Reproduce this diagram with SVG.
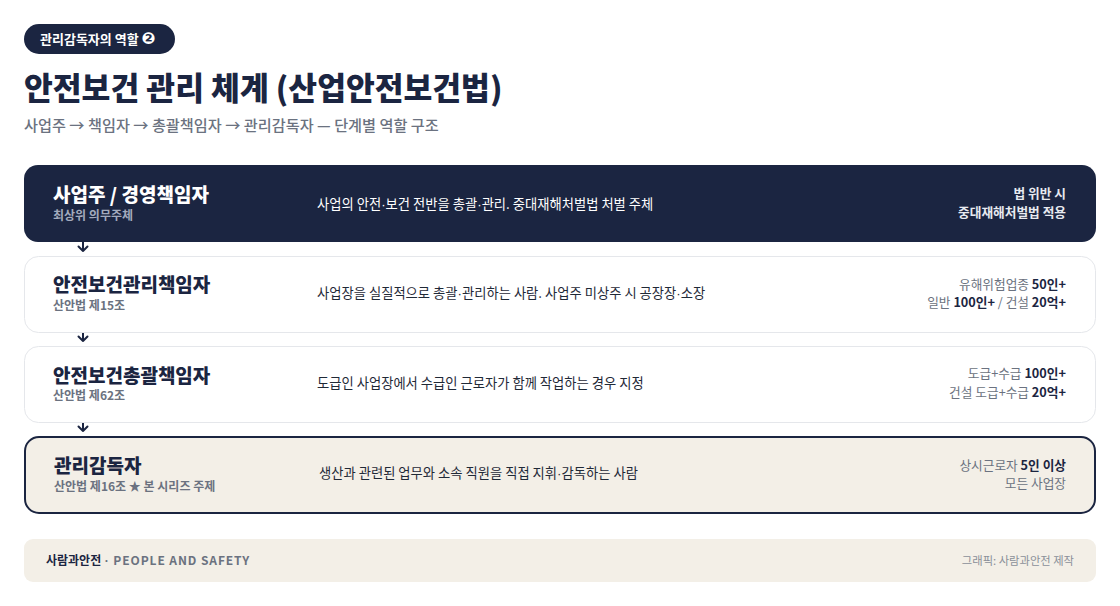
<svg xmlns="http://www.w3.org/2000/svg" width="1120" height="606" viewBox="0 0 1120 606">
<style>
text{font-family:"Noto Sans CJK KR","Noto Sans",sans-serif;}
.navy{fill:#1b2541;}
.ct{font-size:19px;font-weight:800;fill:#1b2541;}
.cs{font-size:12px;font-weight:700;fill:#6b7280;}
.cd{font-size:13.3px;fill:#1f2937;}
.cr{font-size:12.7px;fill:#6b7280;text-anchor:end;}
.b{font-weight:700;fill:#1b2541;}
.dot{font-family:"Liberation Sans",sans-serif;}
.card{fill:#ffffff;stroke:#e5e7eb;stroke-width:1;}
</style>
<rect width="1120" height="606" fill="#ffffff"/>
<g id="header">
<rect x="24" y="24" width="151" height="30" rx="15" class="navy"/>
<text x="40" y="44" font-size="13" font-weight="700" fill="#ffffff">관리감독자의 역할 <tspan font-family="DejaVu Sans, sans-serif" font-size="16.5">❷</tspan></text>
<text x="24" y="100" font-size="31.3" font-weight="900" fill="#1b2541">안전보건 관리 체계 (산업안전보건법)</text>
<text x="24" y="131" font-size="15.2" font-weight="500" fill="#6b7280">사업주 → 책임자 → 총괄책임자 → 관리감독자 — 단계별 역할 구조</text>
</g>
<g id="connectors" stroke="#1b2541" stroke-width="2" fill="none" stroke-linecap="round" stroke-linejoin="round">
<path d="M83 242 V251 M78.5 246.5 L83 251 L87.5 246.5"/>
<path d="M83 332 V341 M78.5 336.5 L83 341 L87.5 336.5"/>
<path d="M83 422 V431 M78.5 426.5 L83 431 L87.5 426.5"/>
</g>
<g id="card1">
<rect x="24" y="165" width="1072" height="77" rx="14" class="navy"/>
<text x="53" y="202" class="ct" style="fill:#ffffff">사업주 / 경영책임자</text>
<text x="53" y="220" class="cs" style="fill:#a3abbd">최상위 의무주체</text>
<text x="317" y="209" class="cd" style="fill:#ffffff">사업의 안전<tspan class="dot">·</tspan>보건 전반을 총괄<tspan class="dot">·</tspan>관리. 중대재해처벌법 처벌 주체</text>
<text x="1066" y="198" class="cr" style="fill:#e8eaf0;font-weight:700">법 위반 시</text>
<text x="1066" y="217" class="cr" style="fill:#e8eaf0;font-weight:700">중대재해처벌법 적용</text>
</g>
<g id="card2">
<rect x="24.5" y="256.5" width="1071" height="76" rx="14" class="card"/>
<text x="53" y="292" class="ct">안전보건관리책임자</text>
<text x="53" y="310" class="cs">산안법 제15조</text>
<text x="317" y="298" class="cd">사업장을 실질적으로 총괄<tspan class="dot">·</tspan>관리하는 사람. 사업주 미상주 시 공장장<tspan class="dot">·</tspan>소장</text>
<text x="1066" y="289" class="cr">유해위험업종 <tspan class="b">50인+</tspan></text>
<text x="1066" y="307" class="cr">일반 <tspan class="b">100인+</tspan> / 건설 <tspan class="b">20억+</tspan></text>
</g>
<g id="card3">
<rect x="24.5" y="346.5" width="1071" height="76" rx="14" class="card"/>
<text x="53" y="383" class="ct">안전보건총괄책임자</text>
<text x="53" y="400" class="cs">산안법 제62조</text>
<text x="317" y="388" class="cd">도급인 사업장에서 수급인 근로자가 함께 작업하는 경우 지정</text>
<text x="1066" y="378" class="cr">도급+수급 <tspan class="b">100인+</tspan></text>
<text x="1066" y="397" class="cr">건설 도급+수급 <tspan class="b">20억+</tspan></text>
</g>
<g id="card4">
<rect x="25" y="437" width="1070" height="76" rx="14" fill="#f3efe7" stroke="#1b2541" stroke-width="2"/>
<text x="54" y="473" class="ct">관리감독자</text>
<text x="54" y="491" class="cs">산안법 제16조 ★ 본 시리즈 주제</text>
<text x="319" y="478" class="cd">생산과 관련된 업무와 소속 직원을 직접 지휘<tspan class="dot">·</tspan>감독하는 사람</text>
<text x="1066" y="470" class="cr">상시근로자 <tspan class="b">5인 이상</tspan></text>
<text x="1066" y="488" class="cr">모든 사업장</text>
</g>
<g id="footer">
<rect x="24" y="539" width="1072" height="43" rx="9" fill="#f3efe7"/>
<text x="46" y="565" font-size="12" font-weight="700" fill="#1b2541">사람과안전<tspan fill="#6b7280" font-weight="700" letter-spacing="0.9"> <tspan class="dot">·</tspan> PEOPLE AND SAFETY</tspan></text>
<text x="1074" y="565" font-size="11.3" fill="#8a8f99" text-anchor="end">그래픽: 사람과안전 제작</text>
</g>
</svg>
